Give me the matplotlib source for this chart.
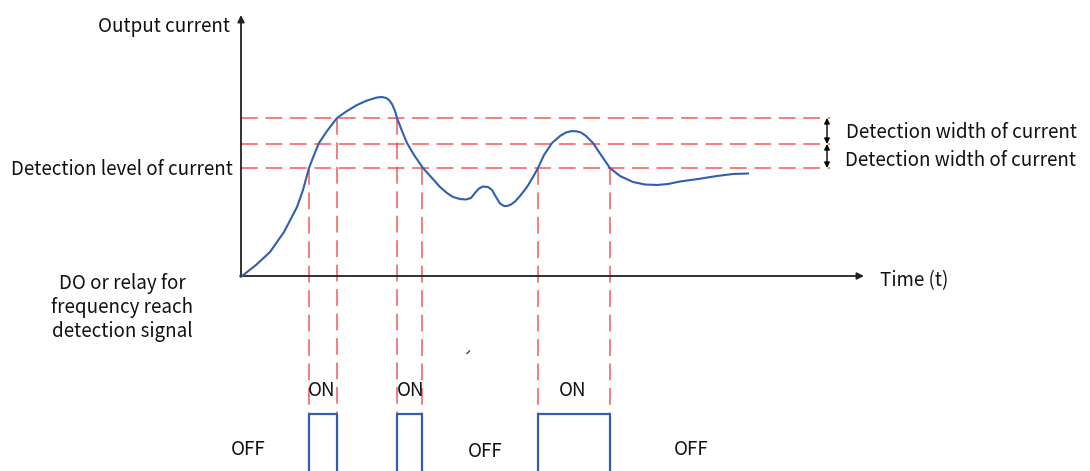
import matplotlib
matplotlib.use("Agg")
import matplotlib.pyplot as plt

plt.rcParams['font.family'] = ['Noto Sans CJK SC', 'DejaVu Sans']

# Output-current curve (pixel-space: x = time, y = current, y down)
curve_t = [242, 256, 270, 284, 297, 303, 309, 314, 319, 327, 337, 347, 357, 367, 377,
           382, 386, 389, 392, 395, 397, 402, 407, 414, 423, 432, 440, 447, 453, 460, 466, 471,
           475, 479, 483, 488, 492, 496, 500, 504, 507, 511, 515, 520, 527, 533, 538, 544, 552, 560,
           566, 571, 576, 581, 586, 593, 601, 610, 620, 633, 645, 657, 668, 680, 698, 717,
           733, 748]
curve_i = [276, 265, 252, 232, 207, 190, 168, 155, 143, 131, 118, 111, 105, 100.5, 97.5,
           97, 98, 100, 104, 111, 118, 131, 143, 155, 168, 178, 187, 193, 197, 199, 199.5, 198,
           193, 188.5, 186.5, 187, 190, 197, 203.5, 206, 206, 204.5, 201.5, 196, 187, 177, 168, 155, 143, 136,
           132.5, 131.2, 131.2, 132.5, 136, 143, 155, 168, 176, 182, 184.5, 185, 184, 181.5, 179, 176,
           174, 173.5]

# Threshold levels (detection level and +/- widths)
levels = [118, 144, 168]
# Crossing instants where the output toggles
cross_t = [309, 337, 397, 422, 538, 610]
cross_level = [168, 118, 118, 168, 168, 168]
# ON pulses (start, end)
pulses = [(309, 337), (397, 422), (538, 610)]

on_labels = [(322, "ON"), (411, "ON"), (573, "ON")]
off_labels = [(248, 447, "OFF"), (485, 449, "OFF"), (691, 447, "OFF")]

W, H = 1090, 471
fig = plt.figure(figsize=(W / 100, H / 100), dpi=100)
ax = fig.add_axes([0, 0, 1, 1])
ax.set_xlim(0, W)
ax.set_ylim(H, 0)
ax.axis('off')

red = '#f04848'
blue = '#2f5fae'
dash = (0, (11, 5))
txt = '#111111'

# horizontal dashed levels
for y in levels:
    ax.plot([241, 830], [y, y], color=red, lw=1.1, ls=dash, alpha=0.9, zorder=1)
# vertical dashed lines
for x, y in zip(cross_t, cross_level):
    ax.plot([x, x], [y, H], color=red, lw=1.1, ls=dash, alpha=0.9, zorder=1)

# axes with arrows
ax.annotate('', xy=(241, 15), xytext=(241, 277),
            arrowprops=dict(arrowstyle='-|>', color='#222222', lw=1.3,
                            mutation_scale=10, shrinkA=0, shrinkB=0))
ax.annotate('', xy=(864, 276), xytext=(240, 276),
            arrowprops=dict(arrowstyle='-|>', color='#222222', lw=1.3,
                            mutation_scale=10, shrinkA=0, shrinkB=0))

# curve
ax.plot(curve_t, curve_i, color=blue, lw=1.5, zorder=3, solid_joinstyle='round')

# pulses
for a, b in pulses:
    ax.plot([a, a, b, b], [H + 5, 414, 414, H + 5], color=blue, lw=1.6, zorder=3)

# double arrows for detection width
for y0, y1 in [(levels[0], levels[1]), (levels[1], levels[2])]:
    ax.annotate('', xy=(827, y0), xytext=(827, y1),
                arrowprops=dict(arrowstyle='<|-|>', color='black', lw=1.0,
                                mutation_scale=8, shrinkA=0, shrinkB=0))

# small stray tick mark present in the original
ax.plot([467, 469.5], [353.5, 351], color='#333333', lw=0.9)

fs = 13.5
dy = 2.5
ax.text(230, 24 + dy, 'Output current', ha='right', va='center', fontsize=fs, color=txt)
ax.text(233, 167 + dy, 'Detection level of current', ha='right', va='center', fontsize=fs, color=txt)
ax.text(846, 130 + dy, 'Detection width of current', ha='left', va='center', fontsize=fs, color=txt)
ax.text(845, 158 + dy, 'Detection width of current', ha='left', va='center', fontsize=fs, color=txt)
ax.text(880, 278 + dy, 'Time (t)', ha='left', va='center', fontsize=fs, color=txt)
ax.text(122, 305 + dy, 'DO or relay for\nfrequency reach\ndetection signal', ha='center',
        va='center', fontsize=fs, color=txt, linespacing=1.16)
for x, s in on_labels:
    ax.text(x, 388 + dy, s, ha='center', va='center', fontsize=fs, color=txt)
for x, y, s in off_labels:
    ax.text(x, y + dy, s, ha='center', va='center', fontsize=fs, color=txt)

fig.savefig('out.png', dpi=100)
